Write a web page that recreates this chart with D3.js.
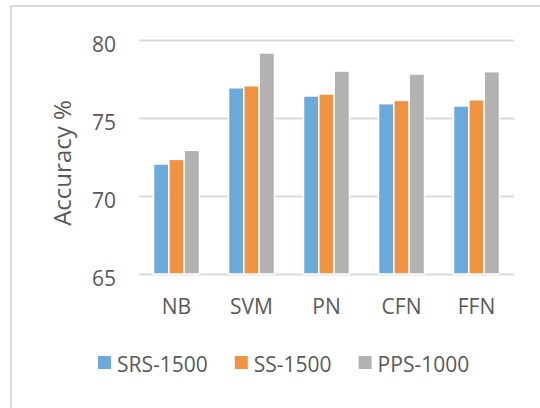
<!DOCTYPE html>
<html>
<head>
<meta charset="utf-8">
<script src="https://cdn.jsdelivr.net/npm/d3@7"></script>
<style>
    body { margin: 0; background: #fff; }
    text { font-family: "Open Sans", sans-serif; fill: #595959; }
</style>
</head>
<body>
<div id="chart"></div>
<script>
// data
const categories = ["NB", "SVM", "PN", "CFN", "FFN"];
const seriesNames = ["SRS-1500", "SS-1500", "PPS-1000"];
const srs1500 = [72.05, 76.94, 76.41, 75.92, 75.77];
const ss1500 = [72.35, 77.07, 76.54, 76.13, 76.17];
const pps1000 = [72.93, 79.17, 78.01, 77.82, 77.97];
const yTicks = [65, 70, 75, 80];
const colors = ["#6BABDC", "#F29342", "#B2B2B2"];

const seriesValues = [srs1500, ss1500, pps1000];

function drawChart() {
    const W = 540, H = 408;
    const margin = {top: 40, right: 26, bottom: 134, left: 139},
    width = W - margin.left - margin.right,
    height = H - margin.top - margin.bottom;

    const root = d3.select("#chart")
    .append("svg")
    .attr("width", W)
    .attr("height", H);

    // chart area border (only top & left visible in the crop)
    root.append("rect")
    .attr("x", 11)
    .attr("y", 6)
    .attr("width", W + 20)
    .attr("height", H + 20)
    .attr("fill", "none")
    .attr("stroke", "#d9d9d9")
    .attr("stroke-width", 2);

    const svg = root.append("g")
    .attr("transform", "translate(" + margin.left + "," + margin.top + ")");

    const y = d3.scaleLinear()
    .domain([65, 80])
    .range([height, 0]);

    const x0 = d3.scaleBand()
    .domain(categories)
    .range([0, width])
    .paddingInner(0.387)
    .paddingOuter(0.1935);

    const x1 = d3.scaleBand()
    .domain(seriesNames)
    .range([0, x0.bandwidth()]);

    // gridlines + y labels
    const yAxis = svg.append("g")
    .call(d3.axisLeft(y).tickValues(yTicks).tickSize(-width).tickFormat(d3.format("d")));
    yAxis.select(".domain").remove();
    yAxis.selectAll(".tick line")
    .attr("stroke", "#d9d9d9")
    .attr("stroke-width", 2);
    yAxis.selectAll(".tick text")
    .attr("x", -23)
    .attr("dy", "0.55em")
    .style("font-size", "21px")
    .attr("fill", "#595959");

    // bars
    const rows = categories.map((c, i) => ({cat: c, vals: seriesNames.map((s, j) => ({name: s, v: seriesValues[j][i], k: j}))}));
    svg.selectAll("g.grp")
    .data(rows)
    .enter()
    .append("g")
    .attr("class", "grp")
    .attr("transform", d => "translate(" + x0(d.cat) + ",0)")
    .selectAll("rect")
    .data(d => d.vals)
    .enter()
    .append("rect")
    .attr("x", d => x1(d.name))
    .attr("y", d => y(d.v))
    .attr("width", x1.bandwidth())
    .attr("height", d => height - y(d.v))
    .attr("fill", d => colors[d.k])
    .attr("stroke", "#fff")
    .attr("stroke-width", 1.5);

    // x labels
    const xAxis = svg.append("g")
    .attr("transform", "translate(0," + height + ")")
    .call(d3.axisBottom(x0).tickSize(0));
    xAxis.select(".domain").remove();
    xAxis.selectAll(".tick text")
    .attr("y", 40)
    .attr("dy", 0)
    .style("font-size", "21px")
    .attr("fill", "#595959");

    // y title
    root.append("text")
    .attr("transform", "translate(71,163)rotate(-90)")
    .attr("text-anchor", "middle")
    .style("font-size", "24px")
    .text("Accuracy %");

    // legend
    const legend = root.append("g").attr("transform", "translate(98,356)");
    let lx = 0;
    seriesNames.forEach((s, i) => {
        const item = legend.append("g").attr("transform", "translate(" + lx + ",0)");
        item.append("rect")
        .attr("width", 13)
        .attr("height", 13)
        .attr("fill", colors[i]);
        const t = item.append("text")
        .attr("x", 19)
        .attr("y", 16)
        .style("font-size", "21px")
        .text(s);
        lx += 19 + t.node().getComputedTextLength() + 27;
    });
}

drawChart();
</script>
</body>
</html>
